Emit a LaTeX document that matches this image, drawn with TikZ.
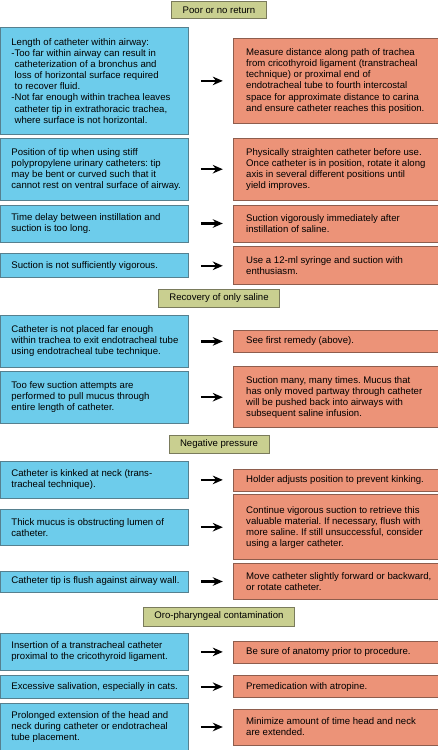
\documentclass[tikz,border=0pt]{standalone}
\usepackage{fontspec}
\setmainfont{Liberation Sans}
\usetikzlibrary{arrows.meta, positioning}
\definecolor{causeblue}{HTML}{6DCCEB}
\definecolor{causeline}{HTML}{56808F}
\definecolor{remedyred}{HTML}{EC9378}
\definecolor{remedyline}{HTML}{8E5D4D}
\definecolor{headolive}{HTML}{C9CF90}
\definecolor{headline}{HTML}{7A7B5C}
\tikzset{
  boxtext/.style={font=\fontsize{9.6}{11.1}\selectfont\frenchspacing},
  heading/.style={rectangle, boxtext, minimum height=17pt, inner xsep=11pt, inner ysep=2pt, draw=headline, fill=headolive, line width=0.8pt},
  cause/.style={rectangle, boxtext, text width=186pt, inner xsep=1pt, inner ysep=2pt, align=flush left, execute at begin node={\leftskip=10pt\relax}, draw=causeline, fill=causeblue, line width=0.8pt},
  remedy/.style={rectangle, boxtext, text width=203pt, inner xsep=1pt, inner ysep=2pt, align=flush left, execute at begin node={\leftskip=12pt\relax}, draw=remedyline, fill=remedyred, line width=0.8pt},
  arrow/.style={line width=2.4pt, -{Stealth[length=10pt, width=8.5pt]}, shorten <=12pt, shorten >=10pt}
}

\begin{document}
\begin{tikzpicture}[x=1pt, y=1pt, node distance=3pt and 44pt]

  \useasboundingbox[fill=white] (0,0) rectangle (438,-750);

  \node (poor) [heading] at (219,-10) {Poor or no return};
  \node (cause1) [cause, anchor=north west, minimum height=107pt] at (0,-27) {Length of catheter within airway:\\
    -Too far within airway can result in\\
    \hphantom{-}catheterization of a bronchus and\\
    \hphantom{-}loss of horizontal surface required\\
    \hphantom{-}to recover fluid.\\
    -Not far enough within trachea leaves\\
    \hphantom{-}catheter tip in extrathoracic trachea,\\
    \hphantom{-}where surface is not horizontal.};
  \node (cause2) [cause, below=3pt of cause1, minimum height=62pt] {Position of tip when using stiff\\ polypropylene urinary catheters: tip\\ may be bent or curved such that it\\ cannot rest on ventral surface of airway.};
  \node (cause3) [cause, below=4pt of cause2, minimum height=37pt] {Time delay between instillation and\\ suction is too long.};
  \node (cause4) [cause, below=11pt of cause3, minimum height=24pt] {Suction is not sufficiently vigorous.};

  \node (fix1) [remedy, right=of cause1, minimum height=85pt] {Measure distance along path of trachea\\ from cricothyroid ligament (transtracheal\\ technique) or proximal end of\\ endotracheal tube to fourth intercostal\\ space for approximate distance to carina\\ and ensure catheter reaches this position.};
  \node (fix2) [remedy, right=of cause2, minimum height=62pt] {Physically straighten catheter before use.\\ Once catheter is in position, rotate it along\\ axis in several different positions until\\ yield improves.};
  \node (fix3) [remedy, right=of cause3, minimum height=37pt] {Suction vigorously immediately after\\ instillation of saline.};
  \node (fix4) [remedy, right=of cause4, minimum height=38pt] {Use a 12-ml syringe and suction with\\ enthusiasm.};

  \node (saline) [heading, minimum height=18pt] at (219,-298) {Recovery of only saline};
  \node (cause5) [cause, anchor=north west, minimum height=52pt] at (0,-315) {Catheter is not placed far enough\\ within trachea to exit endotracheal tube\\ using endotracheal tube technique.};
  \node (cause6) [cause, below=3pt of cause5, minimum height=52pt] {Too few suction attempts are\\ performed to pull mucus through\\ entire length of catheter.};

  \node (fix5) [remedy, right=of cause5, minimum height=22pt] {See first remedy (above).};
  \node (fix6) [remedy, right=of cause6, minimum height=61pt] {Suction many, many times. Mucus that\\ has only moved partway through catheter\\ will be pushed back into airways with\\ subsequent saline infusion.};

  \node (negative) [heading, minimum height=18pt] at (219,-444) {Negative pressure};
  \node (cause7) [cause, anchor=north west, minimum height=37pt] at (0,-461) {Catheter is kinked at neck (trans-\\ tracheal technique).};
  \node (cause8) [cause, below=10pt of cause7, minimum height=36pt] {Thick mucus is obstructing lumen of\\ catheter.};
  \node (cause9) [cause, below=25pt of cause8, minimum height=21pt] {Catheter tip is flush against airway wall.};

  \node (fix7) [remedy, right=of cause7, minimum height=22pt] {Holder adjusts position to prevent kinking.};
  \node (fix8) [remedy, right=of cause8, minimum height=65pt] {Continue vigorous suction to retrieve this\\ valuable material. If necessary, flush with\\ more saline. If still unsuccessful, consider\\ using a larger catheter.};
  \node (fix9) [remedy, right=of cause9, minimum height=36pt] {Move catheter slightly forward or backward,\\ or rotate catheter.};

  \node (oro) [heading, minimum height=19pt] at (219,-616.5) {Oro-pharyngeal contamination};
  \node (cause10) [cause, anchor=north west, minimum height=37pt] at (0,-633) {Insertion of a transtracheal catheter\\ proximal to the cricothyroid ligament.};
  \node (cause11) [cause, below=4pt of cause10, minimum height=23pt] {Excessive salivation, especially in cats.};
  \node (cause12) [cause, below=4pt of cause11, minimum height=48pt] {Prolonged extension of the head and\\ neck during catheter or endotracheal\\ tube placement.};

  \node (fix10) [remedy, right=of cause10, minimum height=22pt] {Be sure of anatomy prior to procedure.};
  \node (fix11) [remedy, right=of cause11, minimum height=22pt] {Premedication with atropine.};
  \node (fix12) [remedy, right=of cause12, minimum height=36pt] {Minimize amount of time head and neck\\ are extended.};

  \draw [arrow] (cause1) -- (fix1);
  \draw [arrow] (cause2) -- (fix2);
  \draw [arrow] (cause3) -- (fix3);
  \draw [arrow] (cause4) -- (fix4);
  \draw [arrow] (cause5) -- (fix5);
  \draw [arrow] (cause6) -- (fix6);
  \draw [arrow] (cause7) -- (fix7);
  \draw [arrow] (cause8) -- (fix8);
  \draw [arrow] (cause9) -- (fix9);
  \draw [arrow] (cause10) -- (fix10);
  \draw [arrow] (cause11) -- (fix11);
  \draw [arrow] (cause12) -- (fix12);

\end{tikzpicture}
\end{document}
